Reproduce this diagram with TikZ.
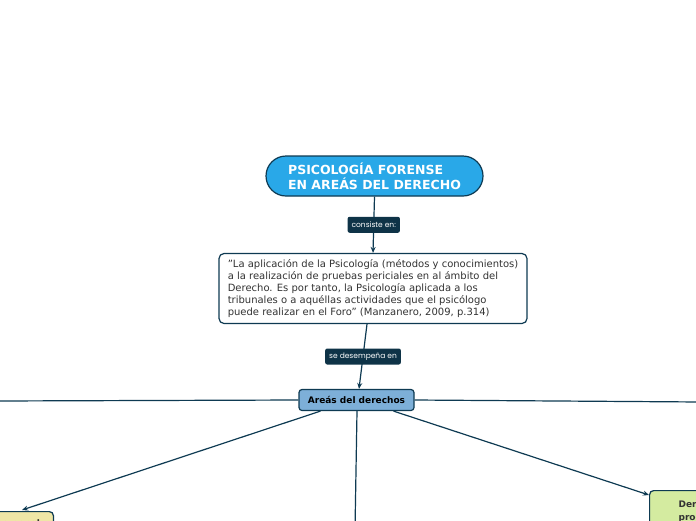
\documentclass[tikz,border=0pt]{standalone}
\usepackage{fontspec}
\setmainfont{DejaVu Sans}[Ligatures=ResetAll]
\newfontfamily\lblfont{Poppins}
\usetikzlibrary{arrows.meta}
\definecolor{navy}{HTML}{0E3A52}
\definecolor{lbldark}{HTML}{0E3347}
\definecolor{titleblue}{HTML}{29A8E8}
\definecolor{areablue}{HTML}{7DAFD8}
\definecolor{penalyellow}{HTML}{EFE6A6}
\definecolor{procgreen}{HTML}{D4EBA0}
\definecolor{txtgray}{HTML}{333333}
\tikzset{
  conn/.style={draw=navy, line width=1.2pt},
  arr/.style={conn, -{Stealth[length=6pt,width=5pt]}},
  lbl/.style={fill=lbldark, text=white, rounded corners=2pt, font=\lblfont\fontsize{7.5}{8}\selectfont,
    minimum height=16pt, inner xsep=4pt, inner ysep=0pt},
  titlebox/.style={draw=navy, line width=1.2pt, fill=titleblue, text=white, rounded corners=20pt,
    minimum width=217pt, minimum height=40pt, align=left, font=\bfseries\fontsize{12.5}{15}\selectfont},
  quotebox/.style={draw=navy, line width=1.2pt, fill=white, text=txtgray, rounded corners=5pt,
    minimum width=308pt, minimum height=70pt, align=left, font=\fontsize{10}{12}\selectfont},
  areabox/.style={draw=navy, line width=1.2pt, fill=areablue, text=black, rounded corners=3pt,
    minimum width=115pt, minimum height=21pt, font=\bfseries\fontsize{9}{10}\selectfont},
  leafbox/.style={draw=navy, line width=1.2pt, rounded corners=4pt, text=txtgray,
    font=\bfseries\fontsize{9}{13}\selectfont, align=left}
}
\begin{document}
\begin{tikzpicture}[x=1pt,y=-1pt]
\useasboundingbox (0,0) rectangle (696,520);
\clip (0,0) rectangle (696,520);
\node[titlebox] (title) at (374.5,176) {PSICOLOGÍA FORENSE\\EN AREÁS DEL DERECHO};
\node[quotebox] (quote) at (373,288.5) {"La aplicación de la Psicología (métodos y conocimientos)\\a la realización de pruebas periciales en al ámbito del\\Derecho. Es por tanto, la Psicología aplicada a los\\tribunales o a aquéllas actividades que el psicólogo\\puede realizar en el Foro" (Manzanero, 2009, p.314)};
\node[areabox] (areas) at (356.5,400) {Areás del derechos};
\node[leafbox, fill=penalyellow, anchor=north east, minimum width=100pt, inner ysep=8pt, align=center] (penal) at (54,511) {Derecho penal\\ \strut};
\node[leafbox, fill=procgreen, anchor=north west, inner xsep=29pt, inner ysep=10pt] (proc) at (649,490) {Derecho\\procesal\\ \strut};
\coordinate (leftend) at (-5,401);
\coordinate (rightend) at (701,402);
\coordinate (downend) at (355,530);

\draw[arr] (title.south) -- node[lbl] (l1) {consiste en:} (quote.north);
\draw[arr] ([xshift=-6pt]quote.south) -- node[lbl] (l2) {se desempeña en} ([xshift=2.5pt]areas.north);
\draw[conn] (areas.west) -- (leftend);
\draw[conn] (areas.east) -- (rightend);
\draw[conn] ([xshift=0.5pt]areas.south) -- (downend);
\draw[arr] ([xshift=-36pt]areas.south) -- ([xshift=-32pt,yshift=1pt]penal.north east);
\draw[arr] ([xshift=37pt]areas.south) -- ([yshift=-5pt]proc.north west);
\end{tikzpicture}
\end{document}
